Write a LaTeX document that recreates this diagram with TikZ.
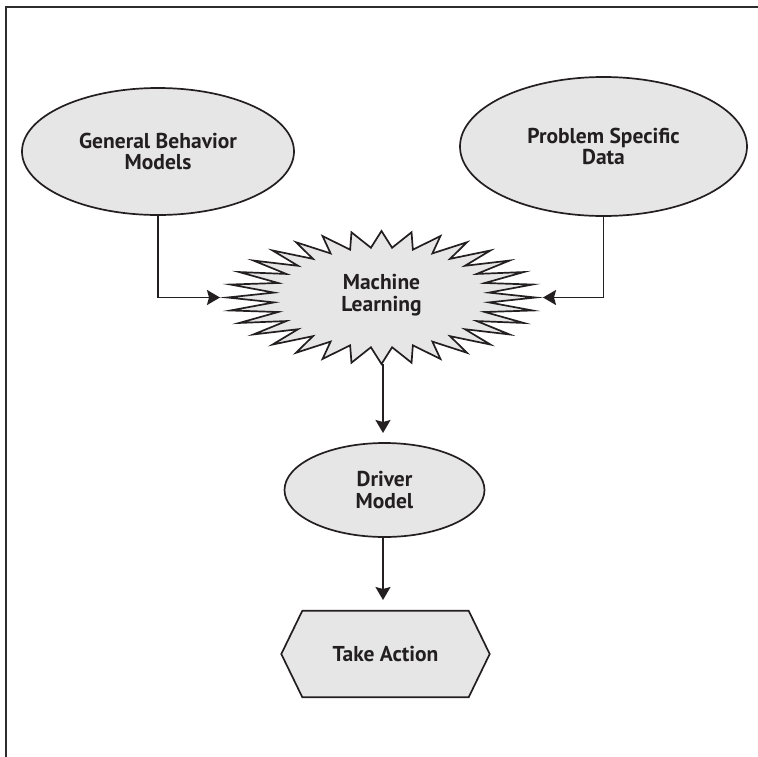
\documentclass[tikz,border=0pt]{standalone}
\usepackage{fontspec}
\setmainfont{PT Sans}
\usetikzlibrary{shapes.geometric,arrows.meta,backgrounds}

\definecolor{shapefill}{RGB}{230,230,230}
\definecolor{ink}{RGB}{35,31,32}
\definecolor{framegray}{RGB}{45,45,45}

\tikzset{
  shapeline/.style={draw=ink, line width=1.7pt, fill=shapefill},
  oval/.style={ellipse, shapeline, inner sep=0pt},
  label/.style={text=ink, font=\bfseries\fontsize{21.5}{21.5}\selectfont, align=center},
  conn/.style={draw=ink, line width=1.8pt, -{Stealth[length=13pt,width=15pt,inset=2pt]}},
}

\begin{document}
\begin{tikzpicture}[x=1pt, y=-1pt]
  \useasboundingbox (0,0) rectangle (758,756);

  % outer frame (top and left edges)
  \draw[framegray, line width=2pt] (6,770) -- (6,7) -- (770,7);

  % input ellipses
  \node[oval, label, minimum width=272pt, minimum height=127pt] (gbm) at (158,151.5)
    {General Behavior\\Models};
  \node[oval, label, minimum width=287pt, minimum height=139pt] (psd) at (603.5,146.5)
    {Problem Specific\\Data};

  % starburst for machine learning: 32 spikes on an ellipse
  \path[shapeline, line join=miter, miter limit=20]
    (381.5,231)
    \foreach \k in {0,...,31} {
      -- ({381.5+108*sin(\k*11.25+5.625)},{297.5-50*cos(\k*11.25+5.625)})
      -- ({381.5+154*sin((\k+1)*11.25)},{297.5-66.5*cos((\k+1)*11.25)})
    } -- cycle;
  \node[label] (ml) at (381.5,295) {Machine\\Learning};
  \coordinate (mlW) at (220,297.5);
  \coordinate (mlE) at (543,297.5);
  \coordinate (mlS) at (383,364);

  % driver model
  \node[oval, label, minimum width=200pt, minimum height=94pt] (drv) at (384.5,490)
    {Driver\\Model};

  % take action hexagon
  \node[label, minimum width=208pt, minimum height=86pt, inner sep=0pt] (act) at (385.5,654)
    {Take Action};
  \begin{scope}[on background layer]
    \path[shapeline]
      (act.west) -- ([xshift=21pt]act.north west) -- ([xshift=-21pt]act.north east)
      -- (act.east) -- ([xshift=-21pt]act.south east) -- ([xshift=21pt]act.south west)
      -- cycle;
  \end{scope}

  % connectors
  \draw[conn] (gbm.south) |- (mlW);
  \draw[conn] (psd.south) |- (mlE);
  \draw[conn] (mlS) -- (mlS |- 0,433);
  \draw[conn] (drv.south -| mlS) -- (mlS |- 0,600);
\end{tikzpicture}
\end{document}
